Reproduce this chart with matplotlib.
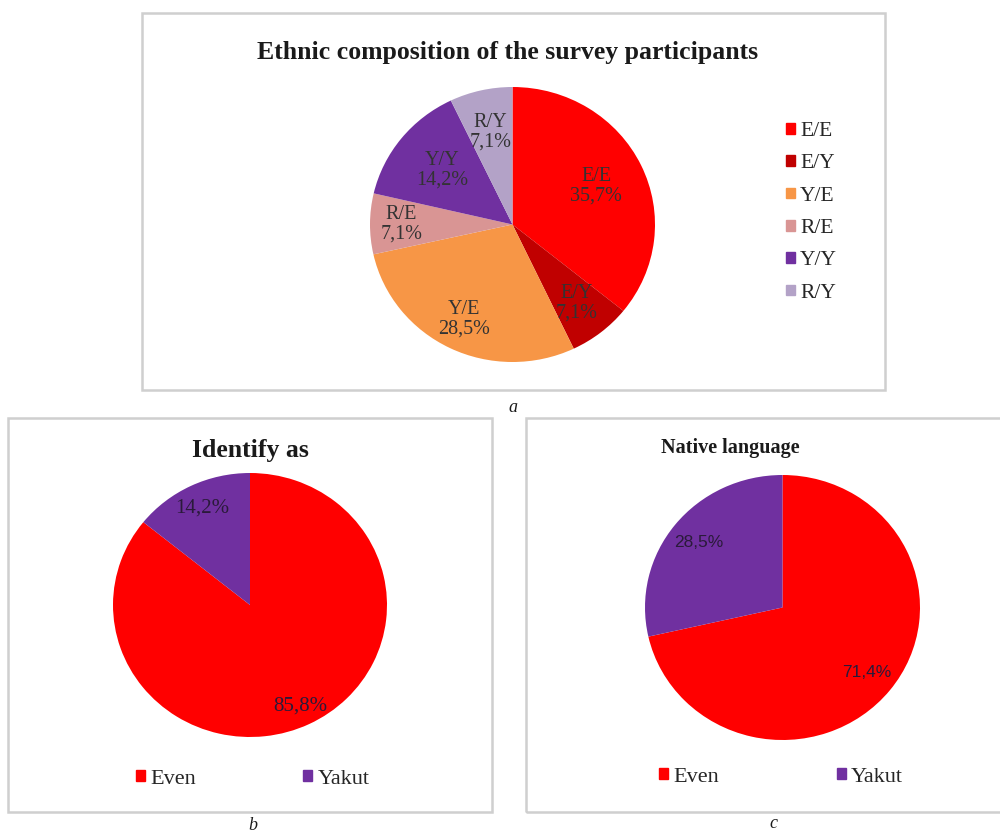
import matplotlib
matplotlib.use('Agg')
import matplotlib.pyplot as plt
from matplotlib.patches import Rectangle, Patch
import numpy as np

plt.rcParams['font.family'] = ['Liberation Serif', 'DejaVu Serif']

# ---- data ----
ethnic_title = 'Ethnic composition of the survey participants'
ethnic_labels = ['E/E', 'E/Y', 'Y/E', 'R/E', 'Y/Y', 'R/Y']
ethnic_values = [35.7, 7.1, 28.5, 7.1, 14.2, 7.1]
ethnic_colors = ['#FF0000', '#C00000', '#F79646', '#D99594', '#7030A0', '#B3A2C7']

identity_title = 'Identify as'
identity_labels = ['Even', 'Yakut']
identity_values = [85.8, 14.2]

language_title = 'Native language'
language_labels = ['Even', 'Yakut']
language_values = [71.4, 28.5]

group_colors = ['#FF0000', '#7030A0']
captions = ['a', 'b', 'c']

# ---- layout helpers (pixel -> figure fraction) ----
W, H = 1000, 832
fig = plt.figure(figsize=(10, 8.32), dpi=100)
fig.patch.set_facecolor('white')


def fx(px):
    return px / W


def fy(py):
    return 1 - py / H


def box(x0, y0, x1, y1):
    fig.add_artist(Rectangle((fx(x0), fy(y1)), (x1 - x0) / W, (y1 - y0) / H,
                             transform=fig.transFigure, fill=False,
                             edgecolor='#CFCFCF', linewidth=1.8))


def pie_axes(x0, y0, x1, y1):
    return fig.add_axes([fx(x0), fy(y1), (x1 - x0) / W, (y1 - y0) / H])


def fmt(v):
    return f'{v:.1f}%'.replace('.', ',')


def draw_pie(ax, values, colors, texts, radii, **tkw):
    wedges = ax.pie(values, colors=colors, startangle=90, counterclock=False,
                    radius=1, wedgeprops=dict(linewidth=0))[0]
    ax.set_aspect('auto')
    ax.set_xlim(-1, 1)
    ax.set_ylim(-1, 1)
    ax.axis('off')
    for w, t, r in zip(wedges, texts, radii):
        ang = np.deg2rad((w.theta1 + w.theta2) / 2)
        ax.text(r * np.cos(ang), r * np.sin(ang), t, ha='center', va='center', **tkw)
    return wedges


# ---- boxes ----
box(142, 13, 885, 390)
box(8, 418, 492, 812)
box(526, 418, 1010, 812)

# ---- top chart ----
fig.text(fx(508), fy(52), ethnic_title, ha='center', va='center',
         fontsize=18.5, fontweight='bold', color='#1a1a1a')
ax_top = pie_axes(370, 87, 655, 362)
draw_pie(ax_top, ethnic_values, ethnic_colors,
         [f'{l}\n{fmt(v)}' for l, v in zip(ethnic_labels, ethnic_values)],
         [0.65, 0.73, 0.77, 0.78, 0.63, 0.69],
         fontsize=14.5, color='#333333', linespacing=1.05)
ax_top.legend(handles=[Patch(color=c, label=l) for c, l in zip(ethnic_colors, ethnic_labels)],
              loc='upper left', bbox_to_anchor=(fx(786), fy(122)),
              bbox_transform=fig.transFigure, frameon=False, fontsize=15.5,
              handlelength=0.4, handleheight=0.4, handletextpad=0.25,
              labelspacing=0.62, borderpad=0, borderaxespad=0, labelcolor='#262626')
fig.text(fx(513), fy(407), captions[0], ha='center', va='center',
         fontsize=13, style='italic', color='#1a1a1a')

# ---- bottom left chart ----
fig.text(fx(250), fy(451), identity_title, ha='center', va='center',
         fontsize=18.5, fontweight='bold', color='#1a1a1a')
ax_b = pie_axes(113, 473, 387, 737)
draw_pie(ax_b, identity_values, group_colors,
         [fmt(v) for v in identity_values], [0.85, 0.81],
         fontsize=15, color='#2a1a3a')
ax_b.legend(handles=[Patch(color=c, label=l) for c, l in zip(group_colors, identity_labels)],
            loc='center', bbox_to_anchor=(fx(253), fy(779)), ncol=2,
            bbox_transform=fig.transFigure, frameon=False, fontsize=16,
            handlelength=0.4, handleheight=0.4, handletextpad=0.25,
            columnspacing=4.8, borderpad=0, borderaxespad=0, labelcolor='#262626')
fig.text(fx(253), fy(825), captions[1], ha='center', va='center',
         fontsize=13, style='italic', color='#1a1a1a')

# ---- bottom right chart ----
fig.text(fx(730), fy(448), language_title, ha='center', va='center',
         fontsize=14.5, fontweight='bold', color='#1a1a1a')
ax_c = pie_axes(645, 475, 920, 740)
draw_pie(ax_c, language_values, group_colors,
         [fmt(v) for v in language_values], [0.78, 0.78],
         fontsize=12.5, color='#2a1a3a', family=['Liberation Sans', 'DejaVu Sans'])
ax_c.legend(handles=[Patch(color=c, label=l) for c, l in zip(group_colors, language_labels)],
            loc='center', bbox_to_anchor=(fx(781), fy(777)), ncol=2,
            bbox_transform=fig.transFigure, frameon=False, fontsize=16,
            handlelength=0.4, handleheight=0.4, handletextpad=0.25,
            columnspacing=5.3, borderpad=0, borderaxespad=0, labelcolor='#262626')
fig.text(fx(773), fy(824), captions[2], ha='center', va='center',
         fontsize=13, style='italic', color='#1a1a1a')

fig.savefig('out.png', dpi=100, facecolor='white')
